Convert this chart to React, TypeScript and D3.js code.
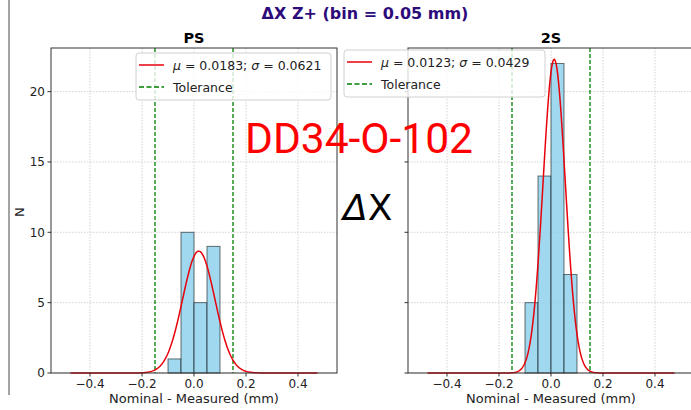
import React from "react";
import * as d3 from "d3";

const W = 691;
const H = 410;

const binEdges = [-0.1, -0.05, 0, 0.05, 0.1];
const psCounts = [1, 10, 5, 9];
const twoSCounts = [5, 14, 22, 7];
const panelTitles = ["PS", "2S"];
const fitMu = [0.0183, 0.0123];
const fitSigma = [0.0621, 0.0429];
const fitPeak = [8.66, 22.3];
const legendLabels = ["\u03bc = 0.0183; \u03c3 = 0.0621", "\u03bc = 0.0123; \u03c3 = 0.0429"];
const tolerance = [-0.15, 0.15];
const xTicks = [-0.4, -0.2, 0, 0.2, 0.4];
const yTicks = [0, 5, 10, 15, 20];
const xDomain = [-0.55, 0.55];
const yDomain = [0, 23.1];
const curveRange = [-0.475, 0.475];

const font = "DejaVu Sans, sans-serif";
const fmt = (v: number) => (v < 0 ? "\u2212" : "") + Math.abs(v).toFixed(1);

const panels = [
  { x0: 51, x1: 337, counts: psCounts, legend: { x: 136, y: 53, w: 195, h: 47 } },
  { x0: 408, x1: 694, counts: twoSCounts, legend: { x: 344, y: 50, w: 201, h: 47 } },
];
const top = 48;
const bottom = 373;

function Panel({ idx }: { idx: number }) {
  const p = panels[idx];
  const x = d3.scaleLinear().domain(xDomain).range([p.x0, p.x1]);
  const y = d3.scaleLinear().domain(yDomain).range([bottom, top]);
  const mu = fitMu[idx];
  const sg = fitSigma[idx];
  const pk = fitPeak[idx];
  const n = 300;
  const pts: [number, number][] = d3.range(n + 1).map((i) => {
    const xv = curveRange[0] + ((curveRange[1] - curveRange[0]) * i) / n;
    return [xv, pk * Math.exp(-0.5 * ((xv - mu) / sg) ** 2)];
  });
  const line = d3
    .line<[number, number]>()
    .x((d) => x(d[0]))
    .y((d) => y(d[1]));
  const lg = p.legend;
  const cx = (p.x0 + p.x1) / 2;
  return (
    <g>
      {xTicks.map((t) => (
        <line key={"gx" + t} x1={x(t)} x2={x(t)} y1={top} y2={bottom} stroke="#c8c8c8" strokeWidth={0.8} strokeDasharray="1.5,1.5" />
      ))}
      {yTicks.map((t) => (
        <line key={"gy" + t} x1={p.x0} x2={p.x1} y1={y(t)} y2={y(t)} stroke="#c8c8c8" strokeWidth={0.8} strokeDasharray="1.5,1.5" />
      ))}
      {p.counts.map((c, i) => (
        <rect
          key={"b" + i}
          x={x(binEdges[i])}
          y={y(c)}
          width={x(binEdges[i + 1]) - x(binEdges[i])}
          height={y(0) - y(c)}
          fill="#87ceeb"
          fillOpacity={0.8}
          stroke="#000"
          strokeOpacity={0.55}
          strokeWidth={1}
        />
      ))}
      {tolerance.map((t) => (
        <line key={"t" + t} x1={x(t)} x2={x(t)} y1={top} y2={bottom} stroke="#008000" strokeWidth={1.3} strokeDasharray="4,2" />
      ))}
      <path d={line(pts) || ""} fill="none" stroke="#e8000b" strokeWidth={1.5} />
      <rect x={p.x0} y={top} width={p.x1 - p.x0} height={bottom - top} fill="none" stroke="#333" strokeWidth={1} />
      {xTicks.map((t) => (
        <g key={"xt" + t}>
          <line x1={x(t)} x2={x(t)} y1={bottom} y2={bottom + 3.5} stroke="#333" />
          <text x={x(t)} y={388} textAnchor="middle" fontSize={12} fontFamily={font} fill="#222">
            {fmt(t)}
          </text>
        </g>
      ))}
      {yTicks.map((t) => (
        <g key={"yt" + t}>
          <line x1={p.x0 - 3.5} x2={p.x0} y1={y(t)} y2={y(t)} stroke="#333" />
          {idx === 0 && (
            <text x={p.x0 - 6} y={y(t) + 4.3} textAnchor="end" fontSize={12} fontFamily={font} fill="#222">
              {t}
            </text>
          )}
        </g>
      ))}
      <text x={cx} y={403} textAnchor="middle" fontSize={13} fontFamily={font} fill="#222">
        Nominal - Measured (mm)
      </text>
      <text x={cx} y={43} textAnchor="middle" fontSize={14.5} fontWeight="bold" fontFamily={font} fill="#000">
        {panelTitles[idx]}
      </text>
      <rect x={lg.x} y={lg.y} width={lg.w} height={lg.h} rx={3} fill="#fff" fillOpacity={0.8} stroke="#d0d0d0" strokeWidth={1} />
      <line x1={lg.x + 3} x2={lg.x + 28} y1={lg.y + 12} y2={lg.y + 12} stroke="#e8000b" strokeWidth={1.5} />
      <line x1={lg.x + 3} x2={lg.x + 28} y1={lg.y + 34} y2={lg.y + 34} stroke="#008000" strokeWidth={1.5} strokeDasharray="5,2.5" />
      <text x={lg.x + 37} y={lg.y + 17} fontSize={12.5} fontFamily={font} fill="#222">
        {legendLabels[idx].split(/(\u03bc|\u03c3)/).map((s, k) =>
          s === "\u03bc" || s === "\u03c3" ? (
            <tspan key={k} fontStyle="italic">{s}</tspan>
          ) : (
            <tspan key={k}>{s}</tspan>
          )
        )}
      </text>
      <text x={lg.x + 37} y={lg.y + 39} fontSize={12.5} fontFamily={font} fill="#222">
        Tolerance
      </text>
    </g>
  );
}

export default function App() {
  return (
    <svg width={W} height={H} style={{ position: "absolute", left: 0, top: 0, background: "#fff" }}>
      <rect x={0} y={0} width={W} height={H} fill="#fff" />
      <line x1={9} x2={9} y1={0} y2={395} stroke="#666" strokeWidth={1.2} />
      <Panel idx={0} />
      <Panel idx={1} />
      <text x={365} y={19} textAnchor="middle" fontSize={16} fontWeight="bold" fontFamily={font} fill="#2d0b7a">
        {"\u0394X Z+ (bin = 0.05 mm)"}
      </text>
      <text x={20} y={212} textAnchor="middle" fontSize={13} fontFamily={font} fill="#222" transform="rotate(-90,20,212)" dy="4">
        N
      </text>
      <text x={245} y={153} fontSize={42.5} fontFamily="Roboto, sans-serif" fill="#ff0000">
        DD34-O-102
      </text>
      <text x={343} y={220} fontSize={36} fontFamily={font} fill="#000">
        <tspan fontStyle="italic">{"\u0394"}</tspan>
        <tspan>X</tspan>
      </text>
    </svg>
  );
}
